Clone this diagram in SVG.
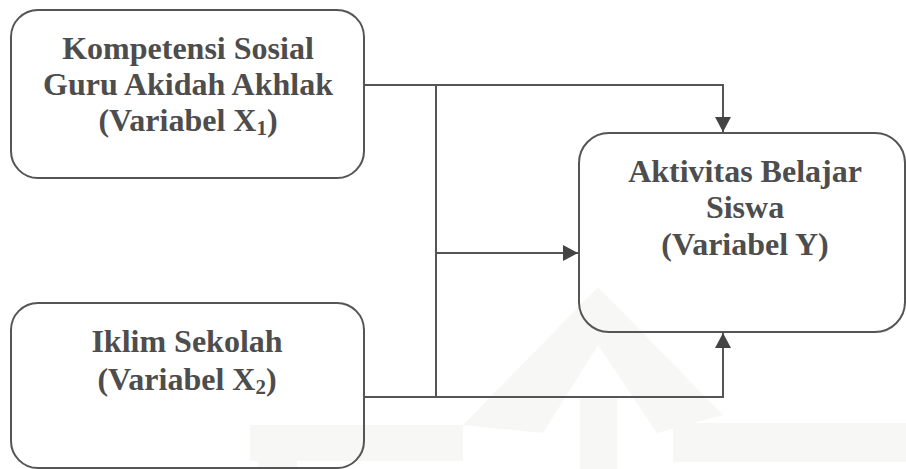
<svg xmlns="http://www.w3.org/2000/svg" width="906" height="469" viewBox="0 0 906 469">
  <style>
    .box { fill: none; stroke: #555555; stroke-width: 2; }
    .lbl { font-family: "Liberation Serif", "Times New Roman", serif; font-weight: bold; font-size: 32px; fill: #4d4d4d; text-anchor: middle; }
    .sub { font-size: 21px; }
    .conn { fill: none; stroke: #555555; stroke-width: 2; }
    .wm { fill: #f7f7f6; }
  </style>
  <defs>
    <marker id="arrow" markerUnits="userSpaceOnUse" markerWidth="16" markerHeight="16" refX="15" refY="8" orient="auto">
      <path d="M0,0 L15,8 L0,16 z" fill="#444444"/>
    </marker>
  </defs>
  <rect width="906" height="469" fill="#ffffff"/>
  <g id="watermark">
    <path class="wm" d="M463,425 L598,287 L723,415 L657,433 L598,345 L543,433 Z"/>
    <rect class="wm" x="250" y="425" width="213" height="36"/>
    <rect class="wm" x="673" y="423" width="233" height="39"/>
    <rect class="wm" x="580" y="398" width="37" height="71"/>
    <rect class="wm" x="258" y="425" width="39" height="44"/>
  </g>
  <g id="x1">
    <rect class="box" x="11" y="10" width="353" height="168" rx="27" ry="27"/>
    <text class="lbl" x="188" y="59">Kompetensi Sosial</text>
    <text class="lbl" x="188" y="95">Guru Akidah Akhlak</text>
    <text class="lbl" x="188" y="131">(Variabel X<tspan class="sub" dy="4">1</tspan><tspan dy="-4">)</tspan></text>
  </g>
  <g id="x2">
    <rect class="box" x="11" y="303" width="353" height="165" rx="27" ry="27"/>
    <text class="lbl" x="187" y="352">Iklim Sekolah</text>
    <text class="lbl" x="187" y="390">(Variabel X<tspan class="sub" dy="4">2</tspan><tspan dy="-4">)</tspan></text>
  </g>
  <g id="y">
    <rect class="box" x="579" y="133" width="326" height="199" rx="30" ry="30"/>
    <text class="lbl" x="745" y="182">Aktivitas Belajar</text>
    <text class="lbl" x="745" y="218">Siswa</text>
    <text class="lbl" x="745" y="255">(Variabel Y)</text>
  </g>
  <g id="connectors">
    <path class="conn" d="M364,85 L723,85 L723,132" marker-end="url(#arrow)"/>
    <path class="conn" d="M436,85 L436,397"/>
    <path class="conn" d="M436,253 L578,253" marker-end="url(#arrow)"/>
    <path class="conn" d="M364,397 L723,397 L723,333" marker-end="url(#arrow)"/>
  </g>
</svg>
